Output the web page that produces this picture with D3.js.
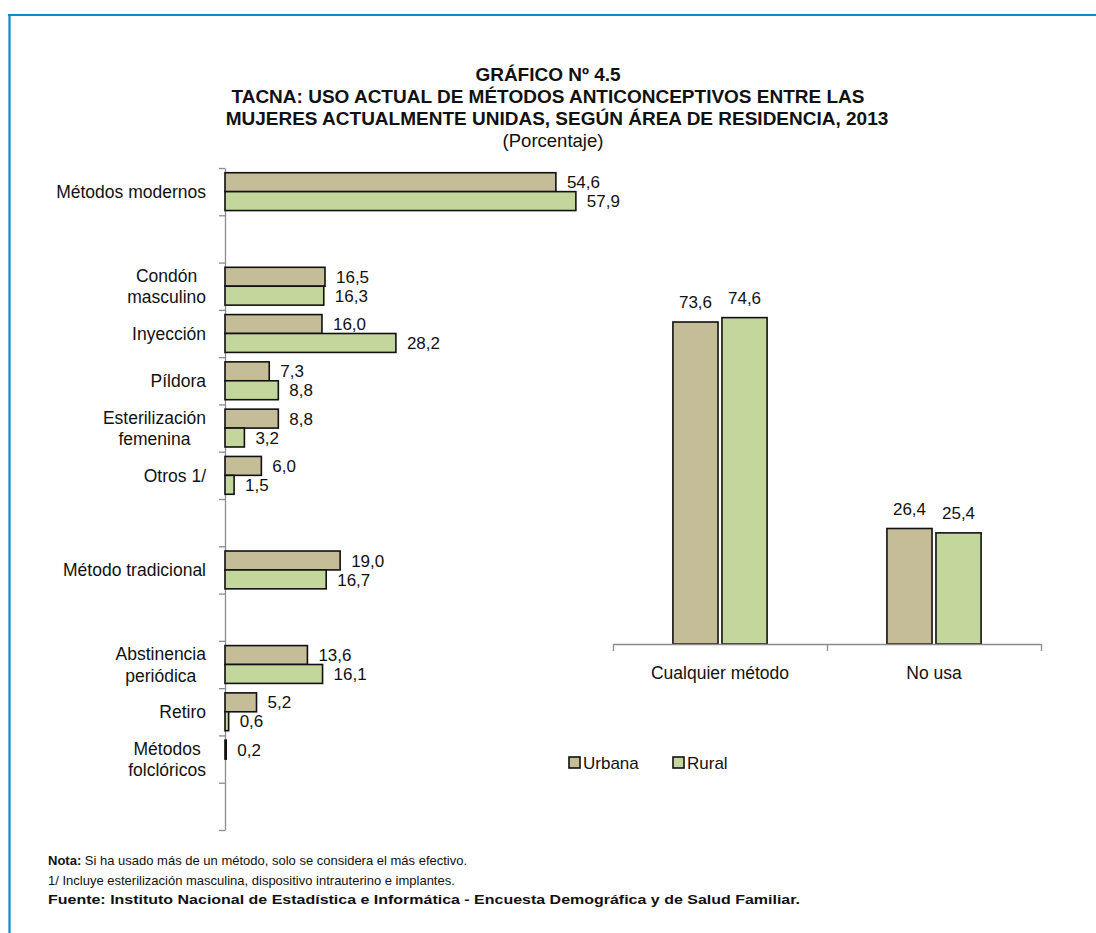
<!DOCTYPE html>
<html>
<head>
<meta charset="utf-8">
<script src="https://cdn.jsdelivr.net/npm/d3@7"></script>
<style>
  html, body { margin: 0; padding: 0; background: #fff; }
  svg { display: block; font-family: "Liberation Sans", Arial, sans-serif; }
</style>
</head>
<body>
<svg id="chart" width="1096" height="933"></svg>
<script>
// ---- DATA ----
const titleLines = ["GRÁFICO Nº 4.5",
  "TACNA: USO ACTUAL DE MÉTODOS ANTICONCEPTIVOS ENTRE LAS",
  "MUJERES ACTUALMENTE UNIDAS, SEGÚN ÁREA DE RESIDENCIA, 2013"];
const subtitle = "(Porcentaje)";

const methodCategories = ["Métodos modernos", "", "Condón\nmasculino", "Inyección", "Píldora",
  "Esterilización\nfemenina", "Otros 1/", "", "Método tradicional", "",
  "Abstinencia\nperiódica", "Retiro", "Métodos\nfolclóricos", ""];
const methodUrbana = [54.6, null, 16.5, 16.0, 7.3, 8.8, 6.0, null, 19.0, null, 13.6, 5.2, 0.2, null];
const methodRural  = [57.9, null, 16.3, 28.2, 8.8, 3.2, 1.5, null, 16.7, null, 16.1, 0.6, null, null];

const useCategories = ["Cualquier método", "No usa"];
const useUrbana = [73.6, 26.4];
const useRural  = [74.6, 25.4];

const seriesNames = ["Urbana", "Rural"];
const seriesColors = ["#c4bd97", "#c3d69b"];

const notes = [
  {bold: "Nota:", text: " Si ha usado más de un método, solo se considera el más efectivo."},
  {bold: "", text: "1/ Incluye esterilización masculina, dispositivo intrauterino e implantes."},
  {bold: "Fuente: Instituto Nacional de Estadística e Informática - Encuesta Demográfica y de Salud Familiar.", text: ""}
];

const fmt = v => d3.format(".1f")(v).replace(".", ",");

// ---- DRAW ----
const svg = d3.select("#chart");
const ink = "#111";

// frame
svg.append("line").attr("x1", 8).attr("x2", 1096).attr("y1", 15).attr("y2", 15)
  .attr("stroke", "#0a8cc6").attr("stroke-width", 2.2);
svg.append("line").attr("x1", 9.5).attr("x2", 9.5).attr("y1", 14).attr("y2", 933)
  .attr("stroke", "#0a8cc6").attr("stroke-width", 2.2);

// titles
const titleX = [548, 548, 557];
const titleY = [81, 103, 125];
titleLines.forEach((t, i) => {
  svg.append("text").attr("x", titleX[i]).attr("y", titleY[i])
    .attr("text-anchor", "middle").attr("font-weight", "bold")
    .attr("font-size", 19).attr("fill", ink).text(t);
});
svg.append("text").attr("x", 553).attr("y", 147).attr("text-anchor", "middle")
  .attr("font-size", 18.5).attr("fill", ink).text(subtitle);

// ---- left chart (horizontal bars) ----
const idx = d3.range(methodCategories.length);
const yBand = d3.scaleBand().domain(idx).range([168, 830]).padding(0);
const yTick = d3.scaleLinear().domain([0, methodCategories.length]).range([168, 830]);
const ySub = d3.scaleBand().domain(seriesNames)
  .range([yBand.bandwidth() * 0.1, yBand.bandwidth() * 0.9]).padding(0);
const xL = d3.scaleLinear().domain([0, 60]).range([225, 588.6]);

const left = svg.append("g");
const axL = left.append("g").attr("transform", `translate(${xL(0)},0)`)
  .call(d3.axisLeft(yTick).tickValues(d3.range(methodCategories.length + 1))
    .tickFormat("").tickSize(6).tickSizeOuter(0));
axL.selectAll("path, line").attr("stroke", "#8c8c8c").attr("stroke-width", 1.3);

const series = [methodUrbana, methodRural];
series.forEach((vals, si) => {
  const g = left.append("g");
  idx.forEach(i => {
    const v = vals[i];
    if (v === null) return;
    const y0 = yBand(i) + ySub(seriesNames[si]);
    g.append("rect").attr("x", xL(0)).attr("y", y0)
      .attr("width", xL(v) - xL(0)).attr("height", ySub.bandwidth())
      .attr("fill", seriesColors[si]).attr("stroke", ink).attr("stroke-width", 1.6);
    g.append("text").attr("x", xL(v) + 11).attr("y", y0 + ySub.bandwidth() / 2)
      .attr("dy", "0.36em").attr("font-size", 17).attr("fill", ink).text(fmt(v));
  });
});

// category labels
const labRight = 206;
idx.forEach(i => {
  const lines = methodCategories[i].split("\n").filter(s => s.length);
  if (!lines.length) return;
  const t = left.append("text").attr("font-size", 17.5).attr("fill", ink);
  const lh = 21.5;
  const cy = yBand(i) + yBand.bandwidth() / 2;
  lines.forEach((ln, k) => {
    t.append("tspan").attr("y", cy + (k - (lines.length - 1) / 2) * lh).attr("dy", "0.36em").text(ln);
  });
  const tsp = t.selectAll("tspan").nodes();
  const widths = tsp.map(n => n.getComputedTextLength());
  const maxW = d3.max(widths);
  t.selectAll("tspan").attr("text-anchor", "middle").attr("x", labRight - maxW / 2);
});

// ---- right chart (vertical bars) ----
const xR = d3.scaleBand().domain(useCategories).range([613, 1041]).padding(0);
const xRT = d3.scaleLinear().domain([0, useCategories.length]).range([613, 1041]);
const xRSub = d3.scaleBand().domain(seriesNames)
  .range([xR.bandwidth() * 0.28, xR.bandwidth() * 0.72]).paddingInner(0.08);
const yR = d3.scaleLinear().domain([0, 80]).range([644, 294]);

const right = svg.append("g");
[useUrbana, useRural].forEach((vals, si) => {
  useCategories.forEach((c, i) => {
    const v = vals[i];
    const x0 = xR(c) + xRSub(seriesNames[si]);
    right.append("rect").attr("x", x0).attr("y", yR(v))
      .attr("width", xRSub.bandwidth()).attr("height", yR(0) - yR(v))
      .attr("fill", seriesColors[si]).attr("stroke", ink).attr("stroke-width", 1.6);
    right.append("text").attr("x", x0 + xRSub.bandwidth() / 2).attr("y", yR(v) - 14)
      .attr("text-anchor", "middle").attr("font-size", 17).attr("fill", ink).text(fmt(v));
  });
});
const axR = right.append("g").attr("transform", `translate(0,${yR(0)})`)
  .call(d3.axisBottom(xRT).tickValues(d3.range(useCategories.length + 1))
    .tickFormat("").tickSize(7).tickSizeOuter(0));
axR.selectAll("path, line").attr("stroke", "#8c8c8c").attr("stroke-width", 1.3);
useCategories.forEach(c => {
  right.append("text").attr("x", xR(c) + xR.bandwidth() / 2).attr("y", 679)
    .attr("text-anchor", "middle").attr("font-size", 17.5).attr("fill", ink).text(c);
});

// legend
const legX = [569, 673];
seriesNames.forEach((s, i) => {
  svg.append("rect").attr("x", legX[i]).attr("y", 757).attr("width", 11).attr("height", 11)
    .attr("fill", seriesColors[i]).attr("stroke", ink).attr("stroke-width", 1.6);
  svg.append("text").attr("x", legX[i] + 14).attr("y", 762.5).attr("dy", "0.36em")
    .attr("font-size", 17).attr("fill", ink).text(s);
});

// notes
const noteY = [865, 885, 904];
notes.forEach((n, i) => {
  const t = svg.append("text").attr("x", 48).attr("y", noteY[i]).attr("font-size", i === 2 ? 13.5 : 13).attr("fill", ink);
  if (n.bold) t.append("tspan").attr("font-weight", "bold").text(n.bold);
  if (n.text) t.append("tspan").text(n.text);
  if (i === 2) t.attr("textLength", 752).attr("lengthAdjust", "spacingAndGlyphs");
});
</script>
</body>
</html>
